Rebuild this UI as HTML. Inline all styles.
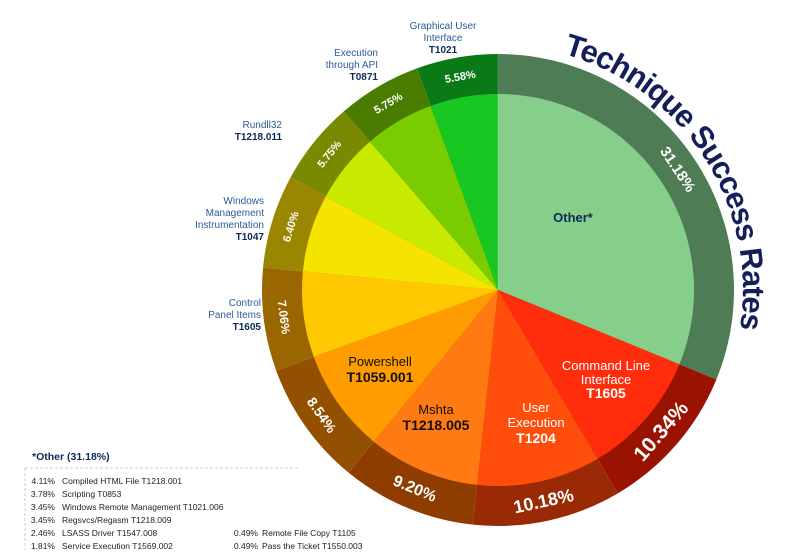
<!DOCTYPE html>
<html><head><meta charset="utf-8"><style>
html,body{margin:0;padding:0;background:#fff;}
body{width:797px;height:550px;overflow:hidden;font-family:"Liberation Sans",sans-serif;}
</style></head><body>
<svg id="s" width="797" height="550" viewBox="0 0 797 550" xmlns="http://www.w3.org/2000/svg" font-family="Liberation Sans, sans-serif">
<defs><path id="tp" d="M498,45 A245,245 0 1 1 497.9,45"/></defs>
<g id="pie"></g>
<text font-size="31" font-weight="bold" fill="#141e5a"><textPath href="#tp" startOffset="66" textLength="358" lengthAdjust="spacing">Technique Success Rates</textPath></text>
<g font-size="14" fill="#0d2a5a" text-anchor="middle">
<text x="573" y="222" font-weight="bold" font-size="13">Other*</text>
<text x="606" y="370" fill="#fff" font-size="13">Command Line</text>
<text x="606" y="384" fill="#fff" font-size="13">Interface</text>
<text x="606" y="398" fill="#fff" font-weight="bold">T1605</text>
<text x="536" y="412" fill="#fff" font-size="13">User</text>
<text x="536" y="427" fill="#fff" font-size="13">Execution</text>
<text x="536" y="443" fill="#fff" font-weight="bold">T1204</text>
<text x="436" y="414" font-size="13" fill="#111">Mshta</text>
<text x="436" y="430" font-weight="bold" fill="#111">T1218.005</text>
<text x="380" y="366" font-size="13" fill="#111">Powershell</text>
<text x="380" y="382" font-weight="bold" fill="#111">T1059.001</text>
</g>
<g font-size="10" fill="#2d5a9a">
<text x="443" y="29" text-anchor="middle">Graphical User</text>
<text x="443" y="41" text-anchor="middle">Interface</text>
<text x="443" y="53" text-anchor="middle" font-weight="bold" fill="#0d2a5a">T1021</text>
<g text-anchor="end">
<text x="378" y="56">Execution</text>
<text x="378" y="68">through API</text>
<text x="378" y="80" font-weight="bold" fill="#0d2a5a">T0871</text>
<text x="282" y="128">Rundll32</text>
<text x="282" y="140" font-weight="bold" fill="#0d2a5a">T1218.011</text>
<text x="264" y="204">Windows</text>
<text x="264" y="216">Management</text>
<text x="264" y="228">Instrumentation</text>
<text x="264" y="240" font-weight="bold" fill="#0d2a5a">T1047</text>
<text x="261" y="306">Control</text>
<text x="261" y="318">Panel Items</text>
<text x="261" y="330" font-weight="bold" fill="#0d2a5a">T1605</text>
</g></g>
<text x="32" y="460" font-size="10.5" font-weight="bold" fill="#0d2a5a">*Other (31.18%)</text>
<path d="M25,468 H300 M25,468 V550" stroke="#ccc" stroke-dasharray="3,2" fill="none"/>
<g font-size="8.5" fill="#222">
<g text-anchor="end">
<text x="55" y="484">4.11%</text><text x="55" y="497">3.78%</text><text x="55" y="510">3.45%</text><text x="55" y="523">3.45%</text><text x="55" y="536">2.46%</text><text x="55" y="549">1.81%</text>
<text x="258" y="536">0.49%</text><text x="258" y="549">0.49%</text></g>
<text x="62" y="484">Compiled HTML File T1218.001</text>
<text x="62" y="497">Scripting T0853</text>
<text x="62" y="510">Windows Remote Management T1021.006</text>
<text x="62" y="523">Regsvcs/Regasm T1218.009</text>
<text x="62" y="536">LSASS Driver T1547.008</text>
<text x="62" y="549">Service Execution T1569.002</text>
<text x="262" y="536">Remote File Copy T1105</text>
<text x="262" y="549">Pass the Ticket T1550.003</text>
</g>
</svg>
<script>
var cx=498,cy=290,R=236,r=196;
var d=[[31.18,"#86cf8a","#4e7d55",0,0],[10.34,"#ff2d0c","#9a1200",21,1],[10.18,"#ff4e0c","#9a2a05",18,1],[9.20,"#ff7a12","#8e3c00",16,1],[8.54,"#ff9c00","#935000",14,1],[7.06,"#ffc800","#9a6600",12,1],[6.40,"#f5e400","#9a8600",11,1],[5.75,"#c8ea00","#7a8a00",11,1],[5.75,"#7acc00","#4a7c00",11,1],[5.58,"#18c722","#0a7a16",11,1]];
var g=document.getElementById("pie"),h="",a=0,tot=99.98;
function pt(rad,ang){var t=ang*Math.PI/180;return [cx+rad*Math.sin(t),cy-rad*Math.cos(t)];}
d.forEach(function(s){var b=a+s[0]/tot*360,lg=(b-a)>180?1:0;
var o1=pt(R,a),o2=pt(R,b),i1=pt(r,a),i2=pt(r,b);
h+='<path d="M'+cx+','+cy+'L'+o1+'A'+R+','+R+' 0 '+lg+' 1 '+o2+'Z" fill="'+s[2]+'"/>';
h+='<path d="M'+cx+','+cy+'L'+i1+'A'+r+','+r+' 0 '+lg+' 1 '+i2+'Z" fill="'+s[1]+'"/>';
var m=(a+b)/2,p=pt(216,m),rot=(m>90&&m<270)?m-180:(m>=270?m-360:m);
var fs=s[3]||15;
h+='<text x="'+p[0]+'" y="'+p[1]+'" transform="rotate('+rot+' '+p[0]+' '+p[1]+')" text-anchor="middle" dominant-baseline="central" font-weight="bold" font-size="'+fs+'" fill="#fff">'+s[0].toFixed(2)+'%</text>';
a=b;});
h+='<line x1="498" y1="'+(cy-R)+'" x2="498" y2="'+cy+'" stroke="#fff" stroke-width="0.5" opacity="0.3"/>';
g.innerHTML=h;
</script>
</body></html>
